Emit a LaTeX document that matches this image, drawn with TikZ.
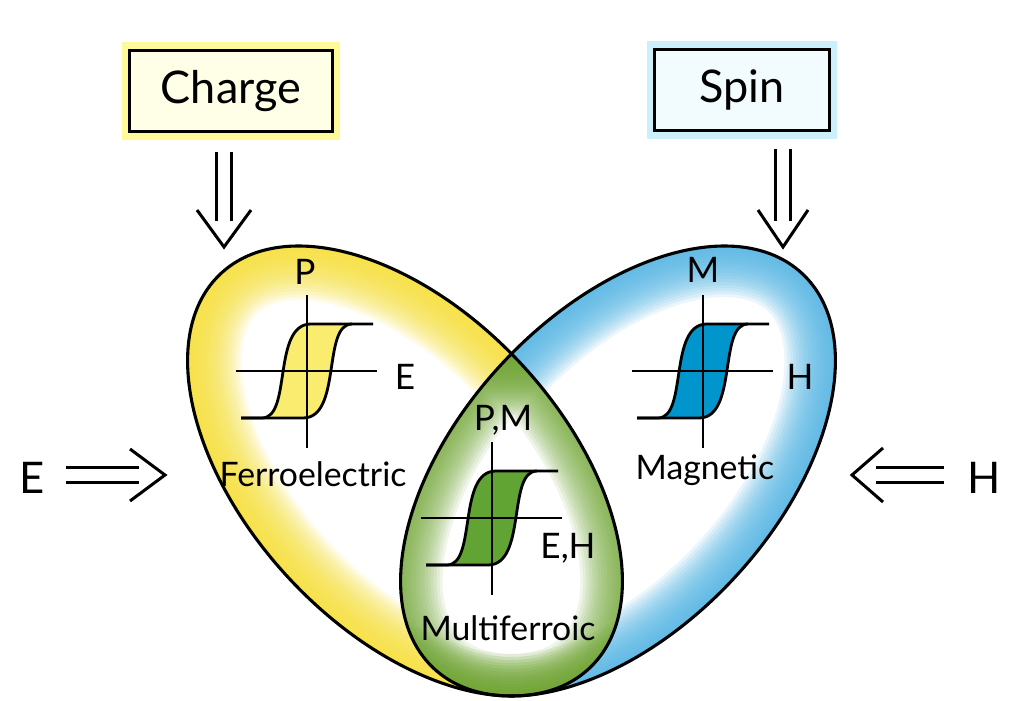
\documentclass[tikz,border=0pt]{standalone}
\usepackage{fontspec}
\setmainfont{Lato}
\usetikzlibrary{positioning,calc}
\definecolor{ferroyellow}{RGB}{247,226,60}
\definecolor{magblue}{RGB}{85,182,230}
\definecolor{multigreen}{RGB}{112,166,50}
\definecolor{loopyellow}{RGB}{250,236,110}
\definecolor{loopblue}{RGB}{0,150,205}
\definecolor{loopgreen}{RGB}{98,164,52}

\begin{document}
\begin{tikzpicture}[
    x=0.025cm, y=-0.025cm,
    leftlobe/.style={rotate around={-47:(405,471)}},
    rightlobe/.style={rotate around={47:(618,471)}},
    rim/.style={draw=black, line width=2.2pt},
    axis/.style={line width=1.2pt},
    curve/.style={line width=2pt, line join=round},
    box/.style={draw=black, line width=2.6pt, minimum height=2.03cm, font=\fontsize{32}{36}\selectfont},
    big/.style={font=\fontsize{31}{35}\selectfont, inner sep=2pt},
    lbl/.style={font=\fontsize{25}{29}\selectfont, inner sep=1pt},
    title/.style={font=\fontsize{24}{28}\selectfont, inner sep=1pt},
    dshaft/.style={double, double distance=0.3cm, line width=0.075cm},
    vhead/.style={line width=0.075cm, line join=miter}
]
\useasboundingbox[fill=white] (0,0) rectangle (1014,701);

% yellow lobe
\begin{scope}
    \clip[leftlobe] (405,471) ellipse [x radius=270, y radius=158];
    \fill[white] (0,0) rectangle (1014,701);
    \foreach \w in {0.15,0.3,...,2.8}
        \draw[ferroyellow, line width=\w cm, opacity=0.12, leftlobe] (405,471) ellipse [x radius=270, y radius=158];
\end{scope}

% blue lobe
\begin{scope}
    \clip[rightlobe] (618,471) ellipse [x radius=270, y radius=158];
    \fill[white] (0,0) rectangle (1014,701);
    \foreach \w in {0.15,0.3,...,2.6}
        \draw[magblue, line width=\w cm, opacity=0.12, rightlobe] (618,471) ellipse [x radius=270, y radius=158];
\end{scope}

% green overlap
\begin{scope}
    \clip[leftlobe] (405,471) ellipse [x radius=270, y radius=158];
    \clip[rightlobe] (618,471) ellipse [x radius=270, y radius=158];
    \fill[white] (0,0) rectangle (1014,701);
    \foreach \w in {0.15,0.3,...,2.2} {
        \draw[multigreen, line width=\w cm, opacity=0.1, leftlobe] (405,471) ellipse [x radius=270, y radius=158];
        \draw[multigreen, line width=\w cm, opacity=0.1, rightlobe] (618,471) ellipse [x radius=270, y radius=158];
    }
\end{scope}

% outlines
\draw[rim, leftlobe] (405,471) ellipse [x radius=270, y radius=158];
\draw[rim, rightlobe] (618,471) ellipse [x radius=270, y radius=158];

% hysteresis loops
\foreach \cx/\cy/\fc in {307/371/loopyellow, 703/371/loopblue, 492/518/loopgreen} {
    \begin{scope}[shift={(\cx,\cy)}]
        \fill[\fc] (-45,47) .. controls (-15,47) and (-35,-47) .. (4,-47) -- (45,-47)
            .. controls (15,-47) and (35,47) .. (-4,47) -- cycle;
        \draw[axis] (-71,0) -- (70,0) (0,-76) -- (0,77);
        \draw[curve] (-66,47) -- (-45,47) .. controls (-15,47) and (-35,-47) .. (4,-47) -- (66,-47);
        \draw[curve] (45,-47) .. controls (15,-47) and (35,47) .. (-4,47) -- (-66,47);
    \end{scope}
}

% axis labels
\node[lbl] (P) at (305,272) {P};
\node[lbl] (E1) at (405,377) {E};
\node[title] (ferro) at (313,474) {Ferroelectric};
\node[lbl] (M) at (703,270) {M};
\node[lbl] (H1) at (800,377) {H};
\node[title] (magn) at (705,470) {Magnetic};
\node[lbl] (PM) at (503,420) {P,M};
\node[lbl] (EH) at (568,548) {E,H};
\node[title] (multi) at (508,628) {Multiferroic};

% boxes
\node[box, minimum width=5.07cm, fill=yellow!10,
      preaction={draw=yellow!40, line width=0.4cm}] (charge) at (231,91) {Charge};
\node[box, minimum width=4.37cm, fill=cyan!5,
      preaction={draw=cyan!20, line width=0.4cm}] (spin) at (742,90) {Spin};

% field labels
\node[big] (Efield) at (32,478) {E};
\node[big] (Hfield) at (984,478) {H};

% tips
\coordinate (chgtip) at (224,247);
\coordinate (spntip) at (783,247);
\coordinate (etip) at (165,475);
\coordinate (htip) at (852,475);

% double arrows
\draw[dshaft] ($(charge.south -| chgtip)+(0,19)$) -- ($(chgtip)+(0,-26)$);
\draw[vhead] ($(chgtip)+(-27,-37)$) -- (chgtip) -- ($(chgtip)+(27,-37)$);
\draw[dshaft] ($(spin.south -| spntip)+(0,17)$) -- ($(spntip)+(0,-26)$);
\draw[vhead] ($(spntip)+(-25,-37)$) -- (spntip) -- ($(spntip)+(25,-37)$);
\draw[dshaft] ($(Efield.east |- etip)+(18,0)$) -- ($(etip)+(-26,0)$);
\draw[vhead] ($(etip)+(-35,-26)$) -- (etip) -- ($(etip)+(-35,26)$);
\draw[dshaft] ($(Hfield.west |- htip)+(-20,0)$) -- ($(htip)+(24,0)$);
\draw[vhead] ($(htip)+(31,-27)$) -- (htip) -- ($(htip)+(31,27)$);
\end{tikzpicture}
\end{document}
